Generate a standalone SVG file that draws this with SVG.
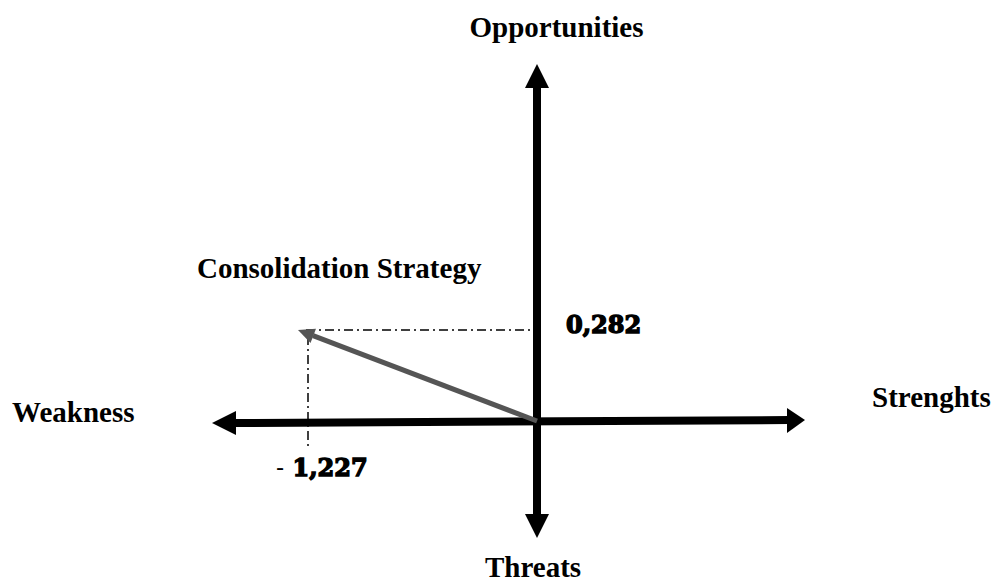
<svg xmlns="http://www.w3.org/2000/svg" width="994" height="582" viewBox="0 0 994 582">
<style>
.lbl{font-family:"Liberation Serif","Times New Roman",serif;font-weight:bold;font-size:29px;fill:#000}
.num{font-family:"DejaVu Serif",serif;font-weight:bold;font-size:24px;fill:#000;stroke:#000;stroke-width:1.4px}
.axis{stroke:#000;stroke-width:8;fill:none}
.head{fill:#000}
.guide{stroke:#000;stroke-width:1.5;fill:none;stroke-dasharray:9 4 2 4}
.vec{stroke:#555;stroke-width:5;fill:none}
</style>
<rect width="994" height="582" fill="#fff"/>
<g id="connectors">
  <line class="axis" x1="537" y1="86" x2="537" y2="516"/>
  <polygon class="head" points="537,64 525,88 549,88"/>
  <polygon class="head" points="537,538 525,514 549,514"/>
  <line class="axis" x1="234" y1="423" x2="789" y2="420"/>
  <polygon class="head" points="212,423 236,411 236,435"/>
  <polygon class="head" points="805,420 787,408 787,433"/>
  <line class="guide" x1="306" y1="330" x2="533" y2="330"/>
  <line class="guide" x1="308" y1="336" x2="308" y2="446"/>
  <line class="vec" x1="537" y1="421" x2="313" y2="335.7"/>
  <polygon fill="#555" points="298,330 316,328.7 310.5,343"/>
</g>
<g id="opportunities"><text class="lbl" x="556.5" y="37" text-anchor="middle">Opportunities</text></g>
<g id="threats"><text class="lbl" x="485" y="577">Threats</text></g>
<g id="weakness"><text class="lbl" x="12" y="422">Weakness</text></g>
<g id="strenghts"><text class="lbl" x="872" y="407">Strenghts</text></g>
<g id="consolidation"><text class="lbl" x="197" y="278">Consolidation Strategy</text></g>
<g id="value-y"><text class="num" x="566" y="333">0,282</text></g>
<g id="value-x"><text class="num" x="276" y="476"><tspan font-weight="normal" stroke-width="0">-</tspan> 1,227</text></g>
</svg>
